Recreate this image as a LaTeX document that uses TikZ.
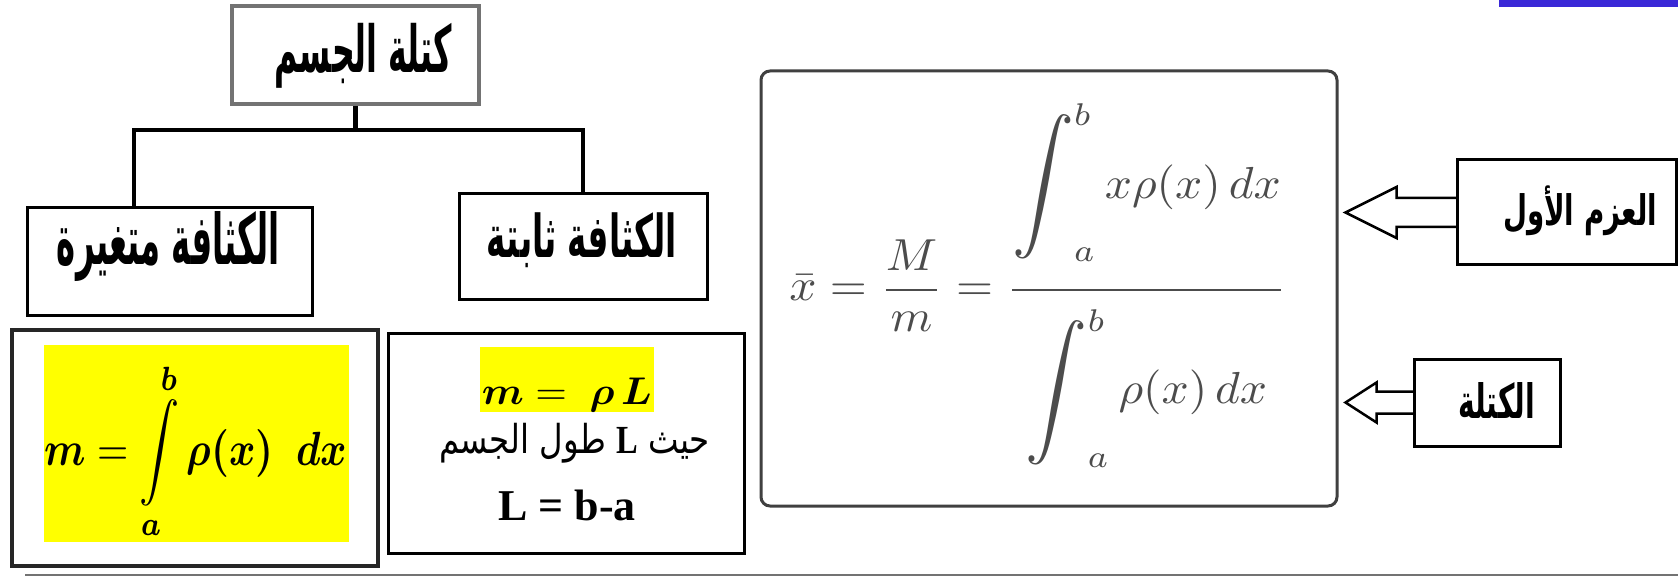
\documentclass[tikz,border=0pt]{standalone}
\usepackage{fontspec}
\usepackage{amsmath}
\usepackage{bm}
\usepackage{graphicx}
\usetikzlibrary{calc,backgrounds}
\setmainfont{Liberation Serif}
\newfontfamily\arabicfont[Script=Arabic]{DejaVu Sans}
\TeXXeTstate=1
\newcommand{\BigInt}{\mathop{\vcenter{\hbox{\scalebox{1.3}[1.45]{$\displaystyle\int$}}}}\nolimits}
\definecolor{hl}{RGB}{255,255,0}
\definecolor{barblue}{RGB}{58,40,215}
\begin{document}
\begin{tikzpicture}[x=1pt,y=-1pt,
  box/.style={draw=black,line width=3pt,fill=white,inner sep=0pt},
  conn/.style={line width=4.5pt,line join=miter},
  blockarrow/.style={draw=black,fill=white,line width=2.5pt,line join=miter},
  artext/.style={inner sep=0pt,outer sep=0pt,text=black},
  hlbox/.style={fill=hl,inner sep=0pt,outer sep=0pt}]
\useasboundingbox (0,0) rectangle (1678,577);

% boxes
\node[box,draw=black!55,line width=3.5pt,minimum width=247pt,minimum height=98pt] (top) at (355.5,55) {};
\node[box,minimum width=285pt,minimum height=107pt] (left) at (169.5,261.5) {};
\node[box,minimum width=248pt,minimum height=105pt] (right) at (583,246.5) {};
\node[box,draw=black!85,line width=4pt,minimum width=366pt,minimum height=236pt] (bl) at (195,448) {};
\node[box,minimum width=356pt,minimum height=220pt] (br) at (566,443) {};
\node[box,draw=black!75,rounded corners=9pt,minimum width=576pt,minimum height=435pt] (fx) at (1049,288.5) {};
\node[box,minimum width=219pt,minimum height=105pt] (lbl1) at (1566.5,212.5) {};
\node[box,minimum width=146pt,minimum height=87pt] (lbl2) at (1487,402.5) {};

% highlights
\node[hlbox,minimum width=305pt,minimum height=197pt] (hlL) at (196.5,443.5) {};
\node[hlbox,minimum width=174pt,minimum height=65pt] (hlR) at (567,379.5) {};

% texts
\node[artext] (ttop) at (363.5,55.5) {\resizebox*{177pt}{65pt}{\arabicfont\bfseries\beginR كتلة الجسم\endR}};
\node[artext] (tleft) at (168.5,247) {\resizebox*{223pt}{70pt}{\arabicfont\bfseries\beginR الكثافة متغيرة\endR}};
\node[artext] (tright) at (582,240) {\resizebox*{190pt}{55pt}{\arabicfont\bfseries\beginR الكثافة ثابتة\endR}};
\node[artext] (t1) at (1580,210.5) {\resizebox*{154pt}{50pt}{\arabicfont\bfseries\beginR العزم الأول\endR}};
\node[artext] (t2) at (1496.5,400) {\resizebox*{77pt}{36pt}{\arabicfont\bfseries\beginR الكتلة\endR}};

% formulas
\node[artext] (fL) at (196,451) {\resizebox*{302pt}{178pt}{$\displaystyle\bm{m}=\int\limits_{\bm{a}}^{\bm{b}}\bm{\rho(x)}\;\;\bm{dx}$}};
\node[artext] (fR) at (567,395) {\resizebox*{170pt}{34pt}{$\bm{m}=\;\bm{\rho\,L}$}};
\node[artext] (tR) at (574.5,443) {\resizebox*{271pt}{40pt}{\arabicfont\beginR حيث {\rmfamily\bfseries L} طول الجسم\endR}};
\node[artext] (tL) at (567,505.5) {\fontsize{44}{48}\selectfont\bfseries L = b-a};
\node[artext] (fbig) at (1038,285.5) {\resizebox*{497pt}{363pt}{\color{black!70}$\displaystyle\bar{x}=\frac{M}{m}=\frac{\BigInt_a^b x\rho(x)\,dx\rule[-19pt]{0pt}{0pt}}{\BigInt_a^b\rho(x)\,dx\rule{0pt}{24pt}}$}};

% connectors
\coordinate (lj) at (134,130);
\coordinate (rj) at (583,130);
\draw[conn] (top.south) -- (top.south |- lj);
\draw[conn] (left.north -| lj) -- (lj) -- (rj) -- (right.north);

\begin{scope}[on background layer]
\fill[white] (0,0) rectangle (1678,577);
\draw[blockarrow] ($(lbl1.west)+(2,-14.5)$) -- ++(-61,0) -- ++(0,-11) -- ++(-51,25.5) -- ++(51,25.5) -- ++(0,-11) -- ++(61,0);
\draw[blockarrow] ($(lbl2.west)+(2,-11)$) -- ++(-38,0) -- ++(0,-9) -- ++(-31,20) -- ++(31,20) -- ++(0,-9) -- ++(38,0);
\end{scope}

% decorations
\fill[barblue] (1499,0) rectangle (1678,7);
\draw[black!55,line width=2pt] (25,575) -- (1678,575);
\end{tikzpicture}
\end{document}
